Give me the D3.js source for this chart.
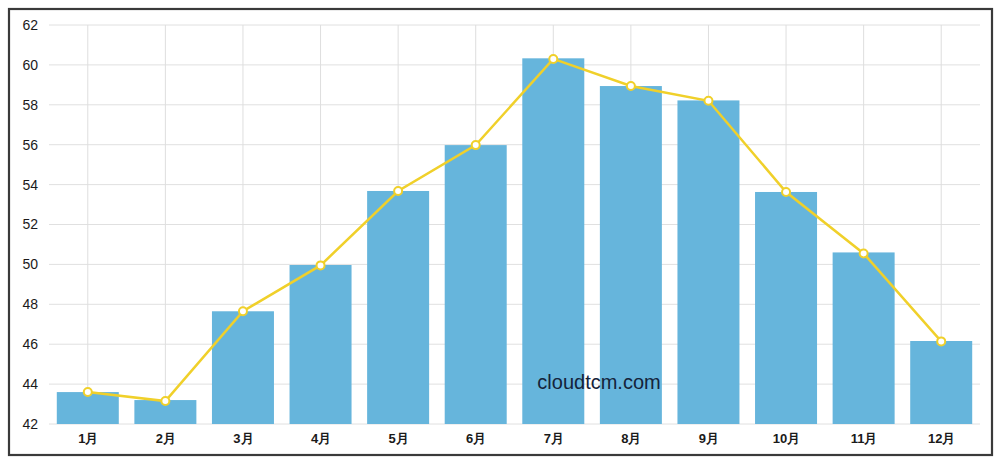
<!DOCTYPE html>
<html><head><meta charset="utf-8">
<script src="https://cdn.jsdelivr.net/npm/d3@7"></script>
<style>body{margin:0;background:#fff;}svg{display:block;}</style>
</head><body>
<svg id="c" width="1000" height="464"></svg>
<script>
const categories = ["1月","2月","3月","4月","5月","6月","7月","8月","9月","10月","11月","12月"];
const barValues = [43.6,43.2,47.65,49.97,53.68,55.98,60.33,58.94,58.22,53.63,50.6,46.16];
const lineValues = [43.6,43.15,47.65,49.95,53.68,55.98,60.3,58.94,58.2,53.63,50.55,46.14];
const yTicks = [42,44,46,48,50,52,54,56,58,60,62];

const svg = d3.select("#c");
const L = 49, R = 980, T = 25, B = 424;
const font = "'Liberation Sans', Arial, sans-serif";

svg.append("rect").attr("x",9).attr("y",9).attr("width",983).attr("height",446)
  .attr("fill","#fff").attr("stroke","#3a3a3a").attr("stroke-width",2.2);

const xc = d3.scalePoint().domain(categories).range([L,R]).padding(0.5);
const y = d3.scaleLinear().domain([42,62]).range([B,T]);

// grid
svg.append("g").selectAll("line").data(yTicks).join("line")
  .attr("x1",L).attr("x2",R).attr("y1",d=>y(d)).attr("y2",d=>y(d))
  .attr("stroke","#e0e0e0").attr("stroke-width",1);
svg.append("g").selectAll("line").data(categories).join("line")
  .attr("x1",d=>xc(d)).attr("x2",d=>xc(d)).attr("y1",T).attr("y2",B)
  .attr("stroke","#dedede").attr("stroke-width",1);

// bars
const bw = 62;
svg.append("g").selectAll("rect").data(categories).join("rect")
  .attr("x",d=>xc(d)-bw/2).attr("width",bw)
  .attr("y",(d,i)=>y(barValues[i])).attr("height",(d,i)=>B-y(barValues[i]))
  .attr("fill","#66b5dc");

// y axis
const ya = d3.axisLeft(y).tickValues(yTicks).tickSize(0).tickPadding(0);
const gy = svg.append("g").attr("transform",`translate(38,0)`).call(ya);
gy.select(".domain").remove();
gy.selectAll("text").attr("font-family",font).attr("font-size",14).attr("fill","#1a1a1a");

// x axis
const xa = d3.axisBottom(xc).tickSize(0).tickPadding(0);
const gx = svg.append("g").attr("transform",`translate(0,434)`).call(xa);
gx.select(".domain").remove();
gx.selectAll("text").attr("font-family",font).attr("font-size",13).attr("fill","#1a1a1a").attr("font-weight","bold");

// watermark
svg.append("text").attr("x",599).attr("y",389).attr("text-anchor","middle")
  .attr("font-family",font).attr("font-size",20).attr("fill","#14233a").text("cloudtcm.com");

// line
const line = d3.line().x((d,i)=>xc(categories[i])).y(d=>y(d));
svg.append("path").datum(lineValues).attr("d",line).attr("fill","none")
  .attr("stroke","#f0d02a").attr("stroke-width",2.5);
svg.append("g").selectAll("circle").data(lineValues).join("circle")
  .attr("cx",(d,i)=>xc(categories[i])).attr("cy",d=>y(d)).attr("r",4)
  .attr("fill","#fff").attr("stroke","#f0d02a").attr("stroke-width",2);
</script>
</body></html>
